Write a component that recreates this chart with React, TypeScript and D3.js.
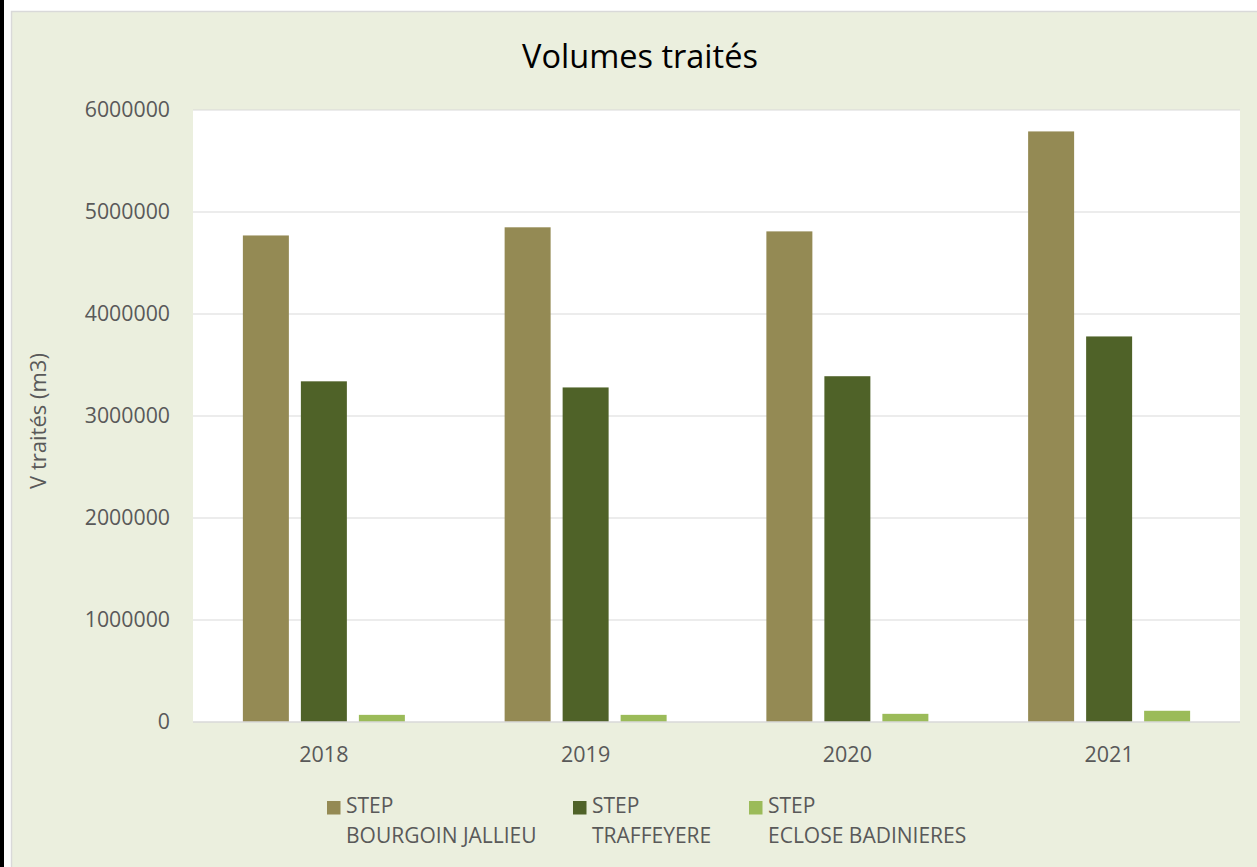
import React from "react";
import * as d3 from "d3";

const years = ["2018", "2019", "2020", "2021"];
const seriesNames = ["STEP BOURGOIN JALLIEU", "STEP TRAFFEYERE", "STEP ECLOSE BADINIERES"];
const legendLine1 = ["STEP", "STEP", "STEP"];
const legendLine2 = ["BOURGOIN JALLIEU", "TRAFFEYERE", "ECLOSE BADINIERES"];
const bourgoin = [4770000, 4850000, 4810000, 5790000];
const traffeyere = [3340000, 3280000, 3390000, 3780000];
const eclose = [70000, 70000, 80000, 110000];
const yTicks = [0, 1000000, 2000000, 3000000, 4000000, 5000000, 6000000];
const colors = ["#948A54", "#4F6228", "#9BBB59"];

const W = 1257;
const H = 867;
const FONT = "'Open Sans', sans-serif";

export default function App() {
  const seriesValues = [bourgoin, traffeyere, eclose];
  const plot = { left: 193, right: 1240, top: 110, bottom: 722 };
  const x0 = d3.scaleBand<string>().domain(years).range([plot.left, plot.right]).padding(0);
  const groupW = 162;
  const off = (x0.bandwidth() - groupW) / 2;
  const x1 = d3
    .scaleBand<string>()
    .domain(seriesNames)
    .range([off, off + groupW])
    .paddingInner(0.207)
    .paddingOuter(0);
  const y = d3.scaleLinear().domain([0, 6000000]).range([plot.bottom, plot.top]);

  const legendX = [327, 573, 749];
  const legendTextX = [346, 592, 768];

  return (
    <svg width={W} height={H} style={{ position: "absolute", left: 0, top: 0 }} fontFamily={FONT}>
      <rect x={0} y={0} width={W} height={H} fill="#ffffff" />
      <rect x={0} y={0} width={4} height={H} fill="#000000" />
      <rect x={11.5} y={11.5} width={W} height={H} fill="#EBEFDE" stroke="#D9D9D9" strokeWidth={1.5} />
      <rect x={plot.left} y={plot.top} width={plot.right - plot.left} height={plot.bottom - plot.top} fill="#ffffff" />
      {yTicks.map((t) => (
        <g key={t}>
          {t !== 0 && (
            <line x1={plot.left} x2={plot.right} y1={y(t)} y2={y(t)} stroke="#D9D9D9" strokeWidth={1} />
          )}
          <text x={170} y={y(t)} dy="0.35em" textAnchor="end" fontSize={21.3} fill="#595959">
            {t}
          </text>
        </g>
      ))}
      {years.map((yr, i) => (
        <g key={yr} transform={`translate(${x0(yr)},0)`}>
          {seriesNames.map((s, j) => (
            <rect
              key={s}
              x={x1(s)}
              y={y(seriesValues[j][i])}
              width={x1.bandwidth()}
              height={plot.bottom - y(seriesValues[j][i])}
              fill={colors[j]}
            />
          ))}
          <text x={x0.bandwidth() / 2} y={754} dy="0.35em" textAnchor="middle" fontSize={21.5} fill="#595959">
            {yr}
          </text>
        </g>
      ))}
      <line x1={plot.left} x2={plot.right} y1={plot.bottom} y2={plot.bottom} stroke="#D9D9D9" strokeWidth={1.5} />
      <text x={640} y={57} dy="0.35em" textAnchor="middle" fontSize={32.5} fill="#000000">
        Volumes traités
      </text>
      <text
        transform={`translate(38,${421}) rotate(-90)`}
        dy="0.35em"
        textAnchor="middle"
        fontSize={22}
        fill="#595959"
      >
        V traités (m3)
      </text>
      {seriesNames.map((s, j) => (
        <g key={s}>
          <rect x={legendX[j]} y={801} width={13.5} height={13.5} fill={colors[j]} />
          <text x={legendTextX[j]} y={806} dy="0.35em" fontSize={21} fill="#595959">
            {legendLine1[j]}
          </text>
          <text x={legendTextX[j]} y={836} dy="0.35em" fontSize={21} fill="#595959">
            {legendLine2[j]}
          </text>
        </g>
      ))}
    </svg>
  );
}
